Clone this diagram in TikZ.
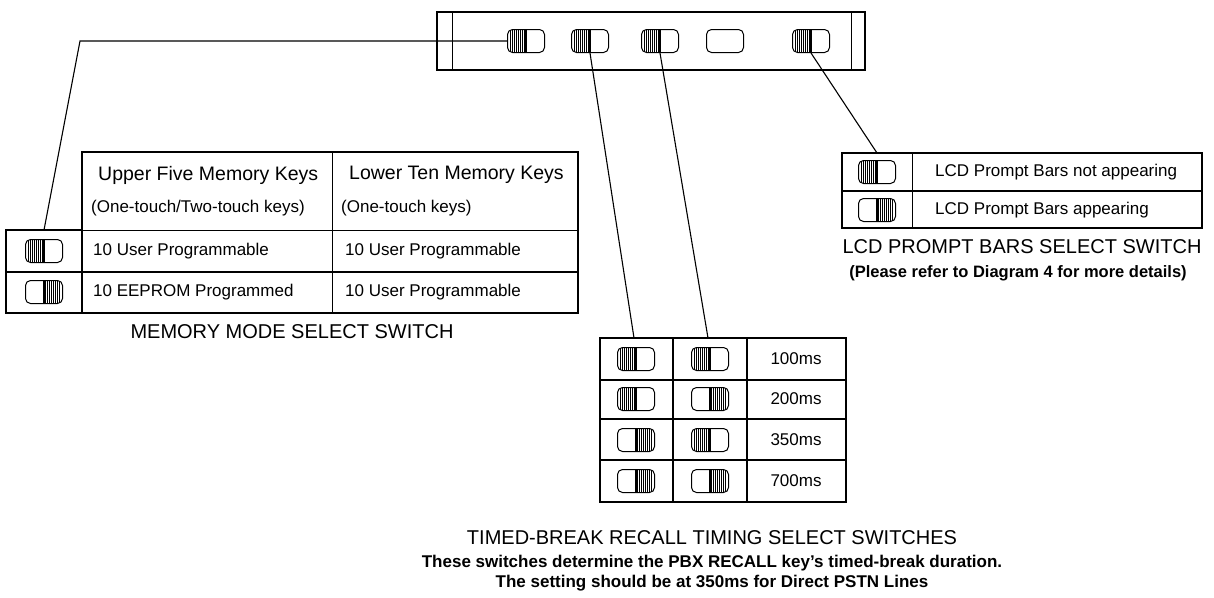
\documentclass[tikz,border=0pt]{standalone}
\usepackage{fontspec}
\setmainfont{Liberation Sans}
\usetikzlibrary{positioning}

\tikzset{
  slidebox/.style={draw, rounded corners=5pt, minimum width=37pt, minimum height=23pt, inner sep=0pt, line width=1pt},
  hatchleft/.style={slidebox, path picture={
      \foreach \dx in {3,5,7,9,11,13,15,17}
        \draw[line width=0.6pt] ([xshift=\dx pt]path picture bounding box.south west) -- ([xshift=\dx pt]path picture bounding box.north west);
      \draw[line width=1.3pt] (path picture bounding box.south) -- (path picture bounding box.north);}},
  hatchright/.style={slidebox, path picture={
      \foreach \dx in {3,5,7,9,11,13,15,17}
        \draw[line width=0.6pt] ([xshift=-\dx pt]path picture bounding box.south east) -- ([xshift=-\dx pt]path picture bounding box.north east);
      \draw[line width=1.3pt] (path picture bounding box.south) -- (path picture bounding box.north);}},
  frame/.style={line width=1.4pt},
  rule/.style={line width=1pt},
  lead/.style={line width=1.1pt},
  cell/.style={font=\fontsize{17}{20}\selectfont, inner sep=0pt},
  headtext/.style={font=\fontsize{19.5}{23}\selectfont, inner sep=0pt},
  caption/.style={font=\fontsize{20}{24}\selectfont, inner sep=0pt},
  note/.style={font=\fontsize{16.5}{20}\selectfont\bfseries, inner sep=0pt, align=center},
}

\begin{document}
\begin{tikzpicture}[x=1pt,y=-1pt]
  \useasboundingbox (0,0) rectangle (1214,597);

  % switch strip on the board
  \draw[frame] (437,12) rectangle (865,70);
  \draw[rule] (452,12) -- (452,70) (851,12) -- (851,70);
  \node[hatchleft] (mode) at (526,41) {};
  \node[hatchleft] (brkA) at (590,41) {};
  \node[hatchleft] (brkB) at (660,41) {};
  \node[slidebox] (spare) at (725,41) {};
  \node[hatchleft] (lcd) at (811,41) {};

  % memory mode table
  \draw[frame] (82,152) rectangle (578,313);
  \draw[frame] (6,230) rectangle (82,313);
  \draw[rule] (82,230) -- (578,230);
  \draw[frame] (6,272) -- (578,272);
  \draw[rule] (332,152) -- (332,313);
  \node[headtext, anchor=west] (upper) at (98,175) {Upper Five Memory Keys};
  \node[cell, anchor=west] (upperk) at (91,208) {(One-touch/Two-touch keys)};
  \node[headtext, anchor=west] (lower) at (349,175) {Lower Ten Memory Keys};
  \node[cell, anchor=west] (lowerk) at (341,208) {(One-touch keys)};
  \node[hatchleft] (memA) at (44,251) {};
  \node[hatchright] (memB) at (44,292) {};
  \node[cell, anchor=west] (memA1) at (93,251) {10 User Programmable};
  \node[cell, anchor=west] (memA2) at (345,251) {10 User Programmable};
  \node[cell, anchor=west] (memB1) at (93,292) {10 EEPROM Programmed};
  \node[cell, anchor=west] (memB2) at (345,292) {10 User Programmable};
  \node[caption] (memcap) at (292,332) {MEMORY MODE SELECT SWITCH};
  \coordinate (memtop) at (44,230);
  \coordinate (modebend) at (80,41);

  % lcd prompt bars table
  \draw[frame] (842,153) rectangle (1202,228);
  \draw[frame] (842,191) -- (1202,191);
  \draw[rule] (912,153) -- (912,228);
  \node[hatchleft] (lcdA) at (877,172) {};
  \node[hatchright] (lcdB) at (877,210) {};
  \node[cell, anchor=west] (lcdA1) at (935,172) {LCD Prompt Bars not appearing};
  \node[cell, anchor=west] (lcdB1) at (935,210) {LCD Prompt Bars appearing};
  \node[caption] (lcdcap) at (1022,247) {LCD PROMPT BARS SELECT SWITCH};
  \node[note] (lcdnote) at (1018,273) {(Please refer to Diagram 4 for more details)};
  \coordinate (lcdtop) at (877,153);

  % timed-break recall table
  \draw[frame] (600,338) rectangle (846,502);
  \draw[frame] (600,380) -- (846,380) (600,419) -- (846,419) (600,460) -- (846,460);
  \draw[frame] (673,338) -- (673,502) (747,338) -- (747,502);
  \foreach \y/\a/\b/\t [count=\i] in {359/hatchleft/hatchleft/100ms,
                                       399/hatchleft/hatchright/200ms,
                                       440/hatchright/hatchleft/350ms,
                                       481/hatchright/hatchright/700ms} {
    \node[\a] (brkA\i) at (636,\y) {};
    \node[\b] (brkB\i) at (710,\y) {};
    \node[cell] (brkT\i) at (796,\y) {\t};
  }
  \node[caption] (brkcap) at (712,538) {TIMED-BREAK RECALL TIMING SELECT SWITCHES};
  \node[note, font=\fontsize{17}{20}\selectfont\bfseries] (brknote) at (712,573) {These switches determine the PBX RECALL key's timed-break duration.\\
    The setting should be at 350ms for Direct PSTN Lines};
  \coordinate (brkAtop) at (634,338);
  \coordinate (brkBtop) at (708,338);

  % leader lines
  \draw[lead] (mode.west) -- (modebend) -- (memtop);
  \draw[lead] (brkA.south) -- (brkAtop);
  \draw[lead] (brkB.south) -- (brkBtop);
  \draw[lead] (lcd.south) -- (lcdtop);
\end{tikzpicture}
\end{document}
